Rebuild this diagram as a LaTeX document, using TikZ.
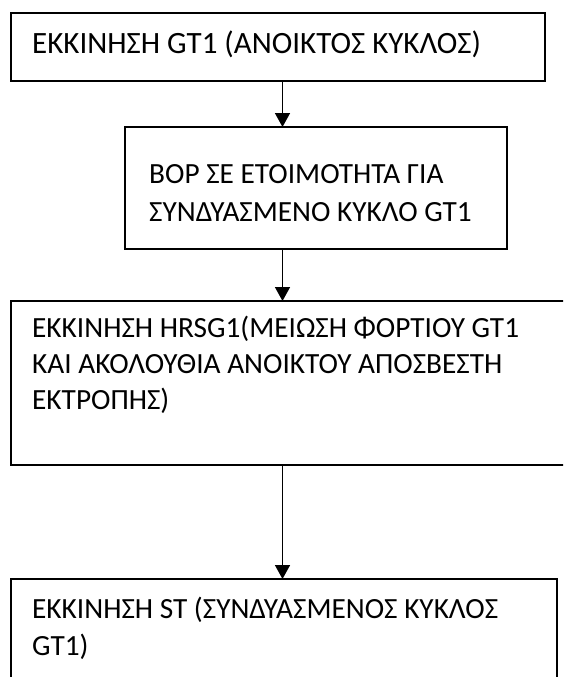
\documentclass[tikz,border=0pt]{standalone}
\usepackage{fontspec}
\setmainfont{Carlito}
\usetikzlibrary{arrows.meta}
\begin{document}
\begin{tikzpicture}[x=1pt,y=-1pt,
  boxn/.style={draw=black, line width=1.6pt, rectangle, inner sep=0pt, outer sep=0pt, anchor=north west},
  txt/.style={inner sep=0pt, anchor=base west, font=\fontsize{29.3}{36}\selectfont},
  bigtxt/.style={txt, font=\fontsize{31}{38}\selectfont},
  flow/.style={line width=1.6pt, -{Triangle[width=15pt,length=14pt]}}]
\useasboundingbox (0,0) rectangle (563,677);
\begin{scope}
\clip (0,0) rectangle (563,677);
\node[boxn, minimum width=534pt, minimum height=68pt] (b1) at (11,13) {};
\node[boxn, minimum width=382pt, minimum height=122pt] (b2) at (125,127) {};
\node[boxn, minimum width=600pt, minimum height=164pt] (b3) at (11,301) {};
\node[boxn, minimum width=546pt, minimum height=140pt] (b4) at (11,579) {};
\end{scope}
\node[bigtxt] (t1) at (32,53) {ΕΚΚΙΝΗΣΗ GT1 (ΑΝΟΙΚΤΟΣ ΚΥΚΛΟΣ)};
\node[txt] (t2a) at (149,183) {ΒΟΡ ΣΕ ΕΤΟΙΜΟΤΗΤΑ ΓΙΑ};
\node[txt] (t2b) at (149,221) {ΣΥΝΔΥΑΣΜΕΝΟ ΚΥΚΛΟ GT1};
\node[txt] (t3a) at (32,337) {ΕΚΚΙΝΗΣΗ HRSG1(ΜΕΙΩΣΗ ΦΟΡΤΙΟΥ GT1};
\node[txt] (t3b) at (32,373) {ΚΑΙ ΑΚΟΛΟΥΘΙΑ ΑΝΟΙΚΤΟΥ ΑΠΟΣΒΕΣΤΗ};
\node[txt] (t3c) at (32,409) {ΕΚΤΡΟΠΗΣ)};
\node[txt] (t4a) at (32,618) {ΕΚΚΙΝΗΣΗ ST (ΣΥΝΔΥΑΣΜΕΝΟΣ ΚΥΚΛΟΣ};
\node[txt] (t4b) at (32,655) {GT1)};
\coordinate (ax) at (282.5,0);
\draw[flow] (b1.south -| ax) -- (b2.north -| ax);
\draw[flow] (b2.south -| ax) -- (b3.north -| ax);
\draw[flow] (b3.south -| ax) -- (b4.north -| ax);
\end{tikzpicture}
\end{document}
